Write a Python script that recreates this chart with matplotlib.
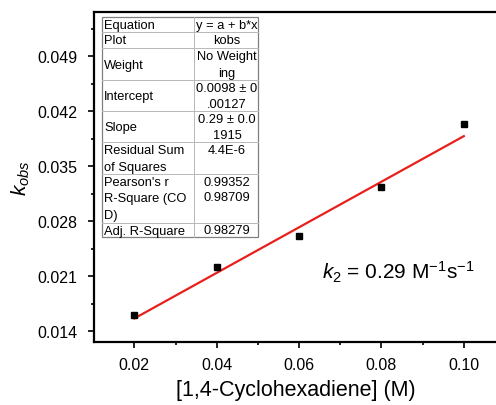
import matplotlib.pyplot as plt
import numpy as np
from matplotlib.ticker import MultipleLocator, FormatStrFormatter

# data
conc = [0.02, 0.04, 0.06, 0.08, 0.10]
kobs = [0.0160, 0.0221, 0.0261, 0.0323, 0.0404]
fit_a = 0.0098
fit_b = 0.29

tbl_left = ["Equation", "Plot", "Weight", "Intercept", "Slope",
            "Residual Sum\nof Squares", "Pearson's r", "R-Square (CO\nD)", "Adj. R-Square"]
tbl_right = ["y = a + b*x", "kobs", "No Weight\ning", "0.0098 \u00b1 0\n.00127",
             "0.29 \u00b1 0.0\n1915", "4.4E-6", "0.99352", "0.98709", "0.98279"]

plt.rcParams['font.family'] = ['Liberation Sans', 'DejaVu Sans']
plt.rcParams['mathtext.fontset'] = 'custom'
plt.rcParams['mathtext.rm'] = 'Liberation Sans'
plt.rcParams['mathtext.it'] = 'Liberation Sans:italic'

W, H = 496, 406
fig = plt.figure(figsize=(W / 100, H / 100), dpi=100)
ax = fig.add_axes([94 / W, (H - 343) / H, (W - 94 + 2) / W, (343 - 13) / H])

ax.plot(conc, kobs, 's', color='black', markersize=5, zorder=3)
xl = np.array([conc[0], conc[-1]])
ax.plot(xl, fit_a + fit_b * xl, color='#e8201c', lw=1.6, zorder=2)

ax.set_xlim(0.0102, 0.1083)
ax.set_ylim(0.0126, 0.0546)
ax.xaxis.set_major_locator(MultipleLocator(0.02))
ax.xaxis.set_minor_locator(MultipleLocator(0.01))
ax.yaxis.set_major_locator(MultipleLocator(0.007))
ax.yaxis.set_minor_locator(MultipleLocator(0.0035))
ax.xaxis.set_major_formatter(FormatStrFormatter('%.2f'))
ax.yaxis.set_major_formatter(FormatStrFormatter('%.3f'))
ax.tick_params(which='both', direction='out', width=1.2, top=False, right=False,
               labelsize=11.5, colors='black')
ax.tick_params(which='major', length=4)
ax.tick_params(which='minor', length=2.5)
ax.tick_params(axis='x', pad=7)
ax.tick_params(axis='y', pad=8)
for s in ['left', 'bottom', 'top']:
    ax.spines[s].set_linewidth(1.6)
ax.spines['right'].set_visible(False)

ax.set_xlabel('[1,4-Cyclohexadiene] (M)', fontsize=15.5, labelpad=5)
ax.set_ylabel('$k_{obs}$', fontsize=15, labelpad=4)

fig.text(322 / W, 1 - 272 / H, r'$k_2$ = 0.29 M$^{-1}$s$^{-1}$', fontsize=15,
         va='center', ha='left')

# fit results table
def fx(px):
    return px / W

def fy(py):
    return 1 - py / H

t_l, t_r, t_c = 102, 258, 194
rows = [18, 33, 49, 81, 112, 143, 175, 190, 224, 238]
lines_at = [33, 49, 81, 112, 143, 175, 224]
grey = '#b8b8b8'
fig.patches.append(plt.Rectangle((fx(t_l), fy(rows[-1])), fx(t_r - t_l), (rows[-1] - rows[0]) / H,
                                 transform=fig.transFigure, facecolor='white',
                                 edgecolor='#808080', lw=0.9, zorder=5))
for y in lines_at:
    fig.lines.append(plt.Line2D([fx(t_l), fx(t_r)], [fy(y), fy(y)], transform=fig.transFigure,
                                color=grey, lw=0.7, zorder=6))
fig.lines.append(plt.Line2D([fx(t_c), fx(t_c)], [fy(rows[0]), fy(rows[-1])], transform=fig.transFigure,
                            color=grey, lw=0.7, zorder=6))

for i in range(len(tbl_left)):
    top, bot = rows[i], rows[i + 1]
    if i == 6:
        bot = 190
    ym = (top + bot) / 2
    fig.text(fx(t_l + 2), fy(ym + 0.5), tbl_left[i], fontsize=9.3, va='center', ha='left',
             linespacing=1.45, zorder=7)
    if i in (5, 7):
        yr = top + 8
    else:
        yr = ym
    fig.text(fx((t_c + t_r) / 2 + 1), fy(yr + 0.5), tbl_right[i], fontsize=9.3, va='center',
             ha='center', linespacing=1.45, zorder=7)

fig.savefig('out.png', dpi=100)
